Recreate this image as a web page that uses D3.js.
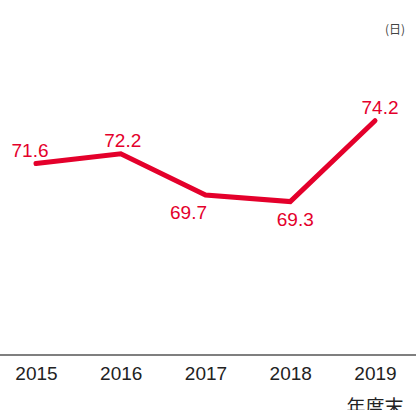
<!DOCTYPE html>
<html>
<head>
<meta charset="utf-8">
<script src="https://cdn.jsdelivr.net/npm/d3@7"></script>
<style>
body { margin: 0; background: #fff; }
text { font-family: "Liberation Sans", Arial, sans-serif; }
</style>
</head>
<body>
<div id="root"></div>
<script>
//DATA
const years = ["2015", "2016", "2017", "2018", "2019"];
const values = [71.6, 72.2, 69.7, 69.3, 74.2];
const unitLabel = "(日)";
const axisNote = "年度末";

//label offsets (dx, dy) for each point
const labelOffsets = [[-6, -7], [2, -7], [-17, 24], [5, 24], [5, -7]];

//DIMENSIONS
const width = 416, height = 410;
const red = "#e4002b";

const svg = d3.select('#root')
  .append("svg")
  .attr('width', width)
  .attr('height', height);

//SCALES
const x = d3.scalePoint()
  .domain(years)
  .range([36, 375]);

const y = d3.scaleLinear()
  .domain([60, 80])
  .range([355, 25]);

//X AXIS
const xAxis = svg.append('g')
  .attr('transform', `translate(0, ${y(60)})`)
  .call(d3.axisBottom(x).tickSize(0).tickPadding(12));
xAxis.select('.domain').remove();
xAxis.selectAll('text')
  .attr('font-size', 19)
  .attr('fill', '#222')
  .attr('font-family', '"Liberation Sans", Arial, sans-serif');

svg.append('line')
  .attr('x1', 0).attr('x2', width)
  .attr('y1', y(60)).attr('y2', y(60))
  .attr('stroke', '#555')
  .attr('stroke-width', 1.5);

svg.append('text')
  .attr('x', x("2019"))
  .attr('y', 414)
  .attr('text-anchor', 'middle')
  .attr('font-size', 19)
  .attr('fill', '#222')
  .style('font-family', '"Noto Sans CJK JP", sans-serif')
  .text(axisNote);

svg.append('text')
  .attr('x', 405)
  .attr('y', 34)
  .attr('text-anchor', 'end')
  .attr('font-size', 12)
  .attr('fill', '#444')
  .style('font-family', '"Noto Sans CJK JP", sans-serif')
  .text(unitLabel);

//LINE
const line = d3.line()
  .x((d, i) => x(years[i]))
  .y(d => y(d));

svg.append("path")
  .datum(values)
  .attr('fill', 'none')
  .attr('stroke', red)
  .attr('stroke-width', 5)
  .attr('stroke-linejoin', 'miter')
  .attr('stroke-linecap', 'round')
  .attr('d', line);

//LABELS
svg.selectAll('.lbl')
  .data(values)
  .join('text')
  .attr('class', 'lbl')
  .attr('x', (d, i) => x(years[i]) + labelOffsets[i][0])
  .attr('y', (d, i) => y(d) + labelOffsets[i][1])
  .attr('text-anchor', 'middle')
  .attr('font-size', 19)
  .attr('fill', red)
  .text(d => d.toFixed(1));
</script>
</body>
</html>
